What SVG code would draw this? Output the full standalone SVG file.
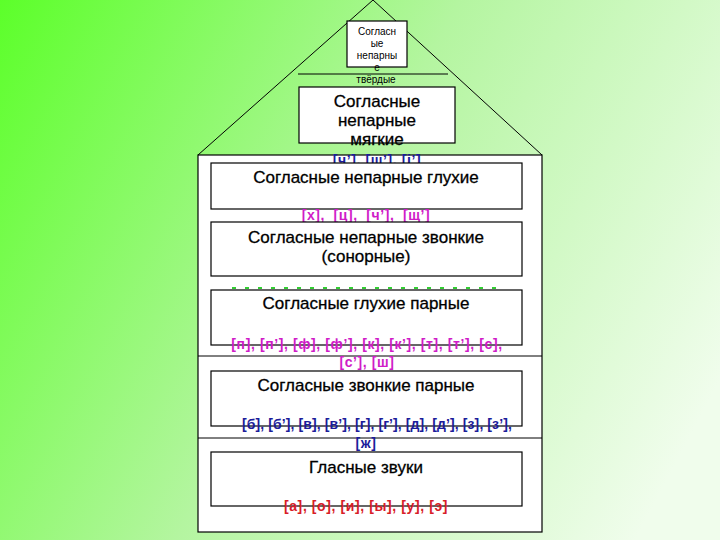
<svg xmlns="http://www.w3.org/2000/svg" width="720" height="540" viewBox="0 0 720 540">
  <defs>
    <linearGradient id="bg" gradientUnits="userSpaceOnUse" x1="0" y1="0" x2="720" y2="380">
      <stop offset="0" stop-color="#5cff2a"/>
      <stop offset="0.5" stop-color="#b4f5a0"/>
      <stop offset="1" stop-color="#f0fdec"/>
    </linearGradient>
    <style>
      .box { fill: #ffffff; stroke: #000000; stroke-width: 1.2; }
      .ln { stroke: #000000; stroke-width: 1; fill: none; }
      .t { font-family: "Liberation Sans", Arial, sans-serif; text-anchor: middle; fill: #000000; }
      .title { font-size: 17px; stroke: #000000; stroke-width: 0.3; }
      .small { font-size: 10px; }
      .ph { font-family: "Liberation Sans", Arial, sans-serif; text-anchor: middle; font-size: 14px; font-weight: bold; letter-spacing: 0.6px; }
      .mag { fill: #d01cc8; }
      .blue { fill: #1c1c9a; }
      .red { fill: #d81c28; }
    </style>
  </defs>
  <rect x="0" y="0" width="720" height="540" fill="url(#bg)"/>

  <g id="house">
    <polyline class="ln" points="198,155 373,0 542,155"/>
    <rect class="box" x="198" y="155" width="344" height="377"/>
  </g>

  <g id="connectors">
    <line class="ln" x1="298" y1="74" x2="448" y2="74"/>
    <line class="ln" x1="198" y1="356" x2="542" y2="356"/>
    <line class="ln" x1="198" y1="438" x2="542" y2="438"/>
    <line x1="232" y1="288" x2="500" y2="288" stroke="#33cc33" stroke-width="2" stroke-dasharray="4 9"/>
  </g>

  <g id="hard">
    <rect class="box" x="347" y="21" width="60" height="46"/>
    <text class="t small" x="377" y="35">Согласн</text>
    <text class="t small" x="377" y="47">ые</text>
    <text class="t small" x="377" y="59">непарны</text>
    <text class="t small" x="377" y="71">е</text>
    <text class="t small" x="376" y="83">твёрдые</text>
  </g>

  <g id="soft">
    <rect class="box" x="299" y="87" width="156" height="56"/>
    <text class="t title" x="377" y="107">Согласные</text>
    <text class="t title" x="377" y="126">непарные</text>
    <text class="t title" x="377" y="145">мягкие</text>
    <text class="ph blue" x="377" y="165">[ч’], [щ’], [j’]</text>
  </g>

  <g id="voiceless-unpaired">
    <rect class="box" x="211" y="163" width="311" height="46"/>
    <text class="t title" x="366" y="183">Согласные непарные глухие</text>
    <text class="ph mag" x="366" y="220" word-spacing="4">[х], [ц], [ч’], [щ’]</text>
  </g>

  <g id="voiced-unpaired">
    <rect class="box" x="211" y="222" width="311" height="54"/>
    <text class="t title" x="366" y="243">Согласные непарные звонкие</text>
    <text class="t title" x="366" y="262">(сонорные)</text>
  </g>

  <g id="voiceless-paired">
    <rect class="box" x="211" y="290" width="311" height="55"/>
    <text class="t title" x="366" y="309">Согласные глухие парные</text>
    <text class="ph mag" x="367" y="349">[п], [п’], [ф], [ф’], [к], [к’], [т], [т’], [с],</text>
    <text class="ph mag" x="367" y="367">[с’], [ш]</text>
  </g>

  <g id="voiced-paired">
    <rect class="box" x="211" y="371" width="311" height="55"/>
    <text class="t title" x="366" y="391">Согласные звонкие парные</text>
    <text class="ph blue" x="377" y="429" style="letter-spacing:0.1px">[б], [б’], [в], [в’], [г], [г’], [д], [д’], [з], [з’],</text>
    <text class="ph blue" x="366" y="448">[ж]</text>
  </g>

  <g id="vowels">
    <rect class="box" x="211" y="452" width="311" height="54"/>
    <text class="t title" x="366" y="473">Гласные звуки</text>
    <text class="ph red" x="366" y="511">[а], [о], [и], [ы], [у], [э]</text>
  </g>
</svg>
